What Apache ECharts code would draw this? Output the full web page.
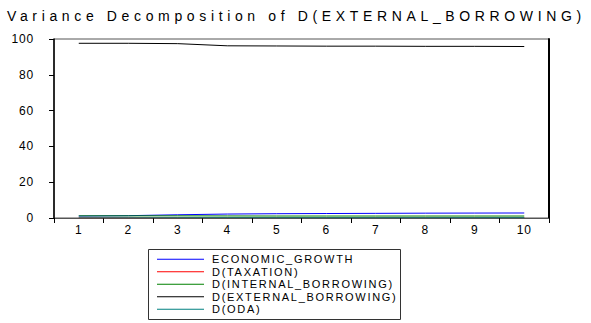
<!DOCTYPE html>
<html>
<head>
<meta charset="utf-8">
<script src="https://cdn.jsdelivr.net/npm/echarts@6/dist/echarts.min.js"></script>
<style>
  html, body { margin: 0; padding: 0; background: #fff; }
  #chart { width: 591px; height: 323px; }
  /* EViews-style wide tracking on the chart text */
  #chart text[style*="11px"] { letter-spacing: 1.7px; }
  #chart text[style*="12px"] { letter-spacing: 0.8px; }
</style>
</head>
<body>
<div id="chart"></div>
<script>
// Forecast horizon (periods)
const periods = ['1', '2', '3', '4', '5', '6', '7', '8', '9', '10'];

// Share of forecast-error variance of D(EXTERNAL_BORROWING), percent
const economicGrowth     = [1.1, 1.3, 1.8, 2.2, 2.4, 2.5, 2.6, 2.7, 2.75, 2.8];
const taxation           = [0.05, 0.1, 0.15, 0.2, 0.25, 0.25, 0.3, 0.3, 0.3, 0.3];
const internalBorrowing  = [1.2, 1.2, 1.2, 1.15, 1.1, 1.1, 1.1, 1.1, 1.1, 1.1];
const externalBorrowing  = [97.6, 97.6, 97.4, 96.2, 96.1, 96.0, 96.0, 95.9, 95.9, 95.8];
const oda                = [0.05, 0.1, 0.15, 0.2, 0.2, 0.2, 0.2, 0.2, 0.2, 0.2];

const seriesNames  = ['ECONOMIC_GROWTH', 'D(TAXATION)', 'D(INTERNAL_BORROWING)', 'D(EXTERNAL_BORROWING)', 'D(ODA)'];
const seriesData   = [economicGrowth, taxation, internalBorrowing, externalBorrowing, oda];
const seriesColors = ['#0000ff', '#ff0000', '#008000', '#000000', '#008080'];

const yTicks = { min: 0, max: 100, interval: 20 };

const titleText = 'Variance Decomposition of D(EXTERNAL_BORROWING)';
const font = 'Arial, "Liberation Sans", Helvetica, sans-serif';

const chart = echarts.init(document.getElementById('chart'), null, { renderer: 'svg' });

chart.setOption({
  animation: false,
  backgroundColor: '#ffffff',
  title: {
    text: titleText,
    left: 7,
    top: 9,
    padding: 0,
    textStyle: { fontFamily: font, fontSize: 14, fontWeight: 'normal', color: '#000' }
  },
  grid: {
    left: 54, right: 42, top: 39, bottom: 105,
    show: true, borderColor: '#555', borderWidth: 1, backgroundColor: '#fff'
  },
  legend: {
    orient: 'vertical',
    left: 157,
    top: 253,
    padding: 0,
    itemWidth: 47,
    itemHeight: 1,
    itemGap: 0,
    icon: 'rect',
    selectedMode: false,
    textStyle: { fontFamily: font, fontSize: 11, color: '#000', lineHeight: 12.5, padding: [0, 0, 0, 3] },
    data: seriesNames
  },
  xAxis: {
    type: 'category',
    data: periods,
    boundaryGap: true,
    axisLine: { lineStyle: { color: '#555', width: 1 } },
    axisTick: { show: true, length: 5, lineStyle: { color: '#000' } },
    axisLabel: { fontFamily: font, fontSize: 12, color: '#000', margin: 6 },
    splitLine: { show: false }
  },
  yAxis: [{
    type: 'value',
    min: yTicks.min, max: yTicks.max, interval: yTicks.interval,
    axisLine: { show: true, lineStyle: { color: '#000', width: 1.5 } },
    axisTick: { show: true, length: 5, lineStyle: { color: '#000' } },
    axisLabel: { fontFamily: font, fontSize: 12, color: '#000', margin: 20 },
    splitLine: { show: false }
  }, {
    type: 'value',
    position: 'right',
    min: yTicks.min, max: yTicks.max, interval: yTicks.interval,
    axisLine: { show: true, lineStyle: { color: '#000', width: 2 } },
    axisTick: { show: false },
    axisLabel: { show: false },
    splitLine: { show: false }
  }],
  graphic: [{
    type: 'rect',
    shape: { x: 148.5, y: 249.5, width: 252, height: 70 },
    style: { fill: 'none', stroke: '#333', lineWidth: 1 },
    silent: true
  }],
  series: seriesNames.map((name, i) => ({
    name,
    type: 'line',
    data: seriesData[i],
    symbol: 'none',
    showSymbol: false,
    lineStyle: { color: seriesColors[i], width: 1 },
    itemStyle: { color: seriesColors[i] },
    z: i === 3 ? 3 : 2
  }))
});

// Spread the title letters so the heading runs across the full width (7px .. 583px)
function trackTitle() {
  document.querySelectorAll('#chart svg text').forEach(el => {
    if (el.textContent.trim() === titleText) {
      el.style.letterSpacing = '0px';
      const base = el.getComputedTextLength();
      const spacing = (579 - base) / titleText.length;
      el.style.letterSpacing = spacing.toFixed(2) + 'px';
    }
  });
}
trackTitle();
chart.on('finished', trackTitle);
</script>
</body>
</html>
